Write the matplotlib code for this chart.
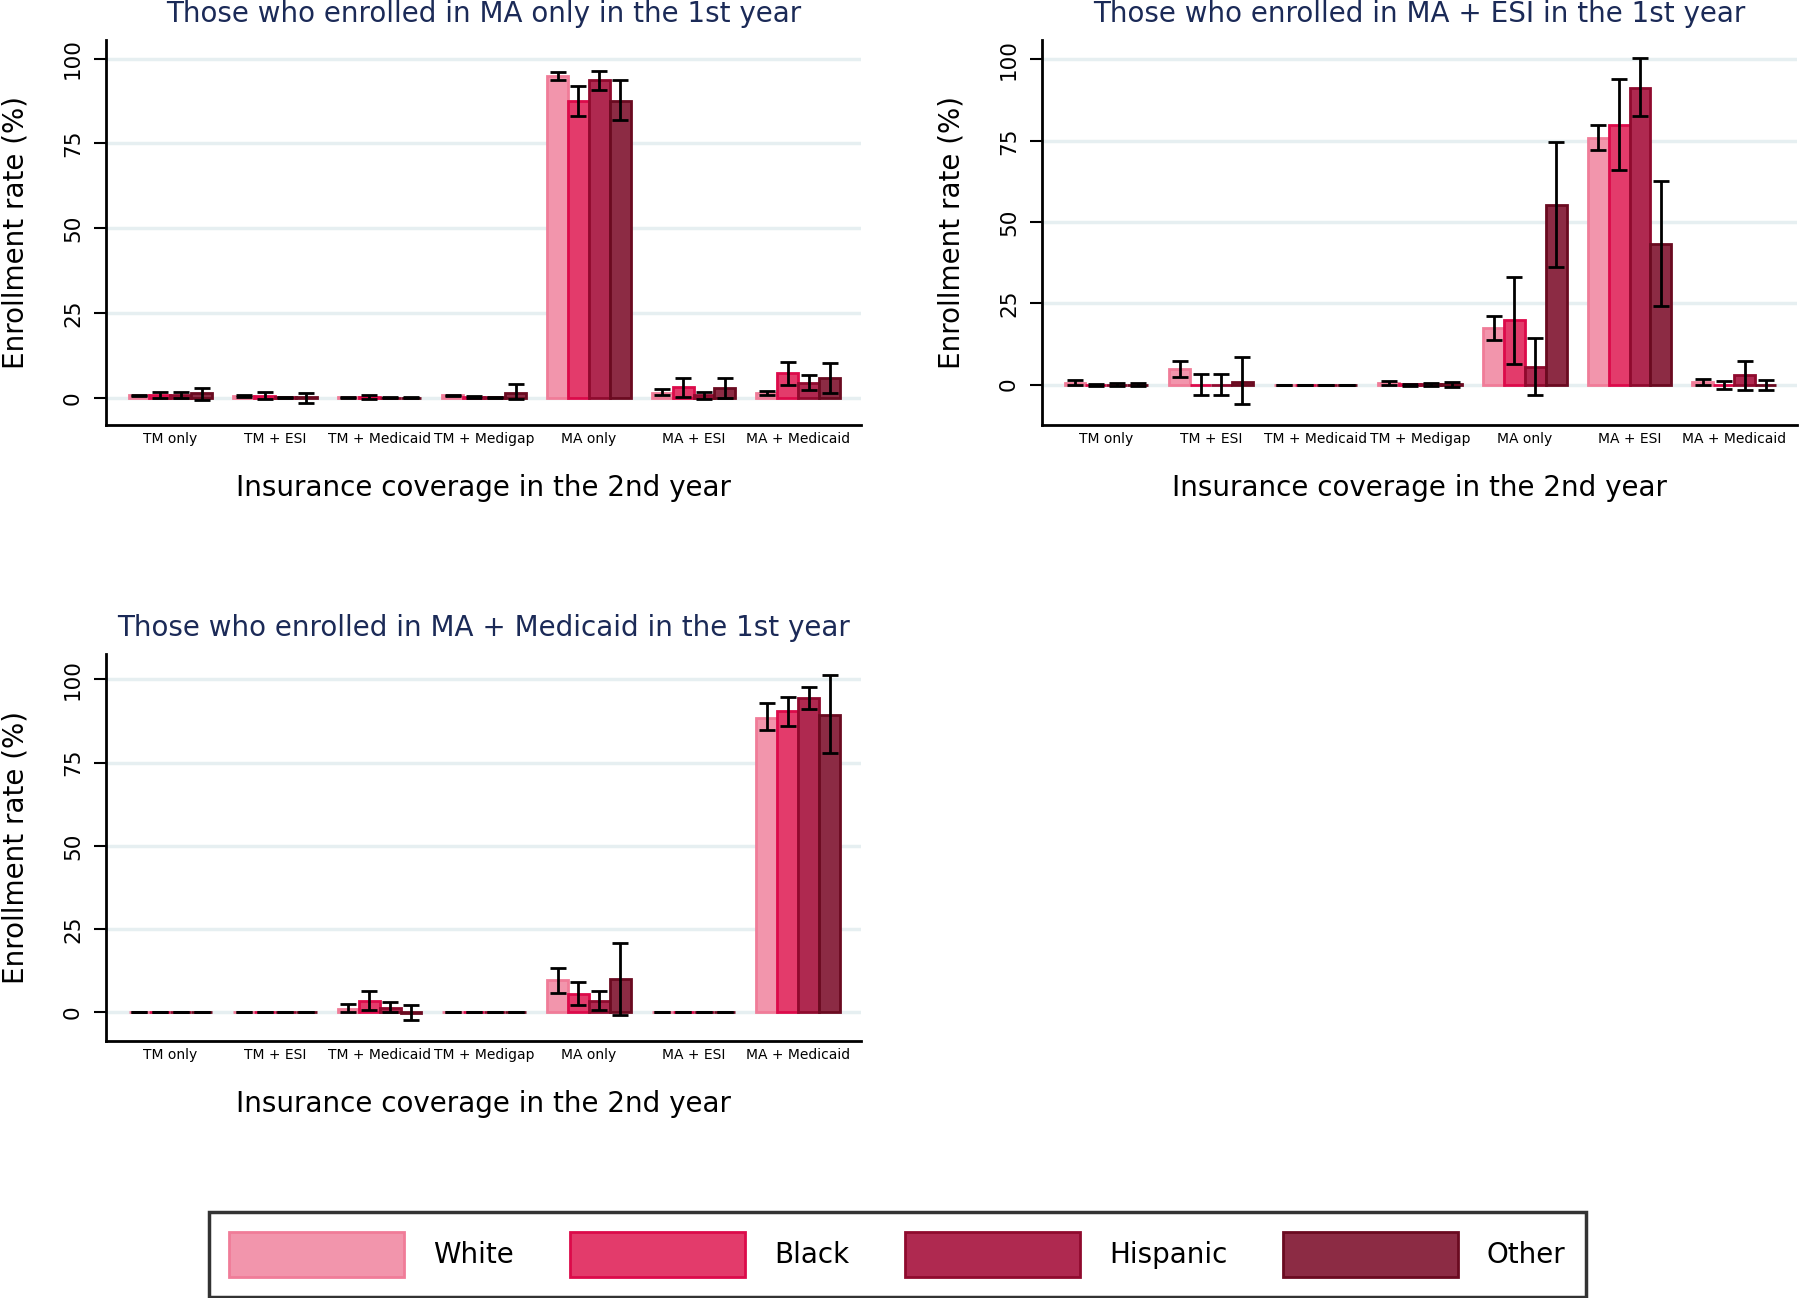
import numpy as np
import matplotlib.pyplot as plt
from matplotlib.patches import Patch

# categories and groups
coverage = ["TM only", "TM + ESI", "TM + Medicaid", "TM + Medigap", "MA only", "MA + ESI", "MA + Medicaid"]
races = ["White", "Black", "Hispanic", "Other"]

titles = [
    "Those who enrolled in MA only in the 1st year",
    "Those who enrolled in MA + ESI in the 1st year",
    "Those who enrolled in MA + Medicaid in the 1st year",
]

# panel 1: MA only in 1st year  (rows = race, cols = coverage)
p1_val = [
    [0.7, 0.5, 0.1, 0.7, 94.8, 1.5, 1.3],
    [0.8, 0.6, 0.2, 0.3, 87.4, 3.2, 7.2],
    [0.8, 0.1, 0.05, 0.1, 93.6, 0.8, 4.4],
    [1.3, 0.1, 0.05, 1.5, 87.6, 3.0, 5.9],
]
p1_lo = [
    [0.5, 0.3, 0.0, 0.5, 93.8, 0.8, 0.8],
    [-0.1, -0.3, -0.4, 0.0, 83.0, 0.3, 3.7],
    [-0.1, 0.0, 0.0, 0.0, 90.8, -0.2, 2.3],
    [-0.5, -1.5, 0.0, -0.2, 81.8, 0.0, 1.3],
]
p1_hi = [
    [0.9, 0.7, 0.2, 0.9, 96.0, 2.5, 2.0],
    [1.8, 1.6, 0.9, 0.6, 91.8, 5.7, 10.6],
    [1.8, 0.2, 0.1, 0.2, 96.3, 1.8, 6.7],
    [2.8, 1.5, 0.1, 4.0, 93.8, 5.7, 10.3],
]

# panel 2: MA + ESI in 1st year
p2_val = [
    [0.6, 4.7, 0.0, 0.5, 17.3, 75.9, 0.8],
    [0.0, 0.0, 0.0, 0.1, 19.9, 80.0, -0.1],
    [0.0, 0.0, 0.0, 0.1, 5.5, 91.3, 2.9],
    [0.0, 0.8, 0.0, 0.1, 55.3, 43.3, -0.1],
]
p2_lo = [
    [0.0, 2.4, 0.0, 0.0, 13.7, 72.2, 0.0],
    [-0.4, -3.3, 0.0, -0.3, 6.5, 66.0, -1.2],
    [-0.5, -3.3, 0.0, -0.4, -3.3, 82.5, -1.8],
    [-0.5, -5.9, 0.0, -0.8, 36.2, 24.2, -1.5],
]
p2_hi = [
    [1.3, 7.2, 0.0, 1.2, 21.1, 79.7, 1.8],
    [0.3, 3.2, 0.0, 0.3, 33.1, 94.1, 1.0],
    [0.5, 3.2, 0.0, 0.4, 14.2, 100.6, 7.3],
    [0.5, 8.4, 0.0, 0.8, 74.5, 62.7, 1.3],
]

# panel 3: MA + Medicaid in 1st year
p3_val = [
    [0.1, 0.0, 1.1, 0.0, 9.6, 0.0, 88.4],
    [0.1, 0.0, 3.4, 0.0, 5.6, 0.0, 90.5],
    [0.1, 0.0, 1.4, 0.0, 3.4, 0.0, 94.3],
    [0.1, 0.0, -0.3, 0.0, 9.9, 0.0, 89.3],
]
p3_lo = [
    [0.1, 0.0, 0.0, 0.0, 5.8, 0.0, 84.7],
    [0.1, 0.0, 0.8, 0.0, 2.2, 0.0, 86.0],
    [0.1, 0.0, 0.1, 0.0, 0.8, 0.0, 91.0],
    [0.1, 0.0, -2.3, 0.0, -0.7, 0.0, 78.0],
]
p3_hi = [
    [0.1, 0.0, 2.5, 0.0, 13.4, 0.0, 92.8],
    [0.1, 0.0, 6.3, 0.0, 9.1, 0.0, 94.6],
    [0.1, 0.0, 3.2, 0.0, 6.3, 0.0, 97.6],
    [0.1, 0.0, 2.1, 0.0, 20.8, 0.0, 101.2],
]

face_colors = ["#F295AC", "#E33B6B", "#AF2950", "#8C2B44"]
edge_colors = ["#F07C98", "#DC0A4A", "#8F0A2E", "#6A0A20"]
title_color = "#1B2A57"
grid_color = "#E6EFF1"

panels = [
    (p1_val, p1_lo, p1_hi, [0.0589, 0.6726, 0.4194, 0.2966], (-8.0, 105.5)),
    (p2_val, p2_lo, p2_hi, [0.5789, 0.6726, 0.4194, 0.2966], (-12.4, 106.0)),
    (p3_val, p3_lo, p3_hi, [0.0589, 0.1980, 0.4194, 0.2980], (-8.6, 107.6)),
]

fig = plt.figure(figsize=(18, 12.98), dpi=100)

x = np.arange(len(coverage))
width = 0.2

for i, (vals, lows, highs, pos, ylims) in enumerate(panels):
    ax = fig.add_axes(pos)
    for y in [0, 25, 50, 75, 100]:
        ax.axhline(y, color=grid_color, lw=2.5, zorder=0)
    for r in range(len(races)):
        xs = x + (r - 1.5) * width
        v = np.array(vals[r])
        lo = np.array(lows[r])
        hi = np.array(highs[r])
        ax.bar(xs, v, width, color=face_colors[r], edgecolor=edge_colors[r], linewidth=2, zorder=2)
        ax.errorbar(xs, (lo + hi) / 2, yerr=(hi - lo) / 2, fmt="none", ecolor="black",
                    elinewidth=2, capsize=6, capthick=2, zorder=3)
    ax.set_xlim(-0.615, 6.6)
    ax.set_ylim(*ylims)
    ax.set_yticks([0, 25, 50, 75, 100])
    ax.set_yticklabels(["0", "25", "50", "75", "100"], rotation=90, va="center")
    ax.tick_params(axis="y", labelsize=15.5, length=8.5, width=1.5, pad=8)
    ax.set_xticks(x)
    ax.set_xticklabels(coverage, fontsize=10)
    ax.tick_params(axis="x", length=0, pad=5)
    for s in ["top", "right"]:
        ax.spines[s].set_visible(False)
    for s in ["left", "bottom"]:
        ax.spines[s].set_linewidth(2)
    ax.set_title(titles[i], color=title_color, fontsize=20, pad=13)
    ax.set_ylabel("Enrollment rate (%)", fontsize=20)
    ax.yaxis.set_label_coords(-0.101, 0.5)
    ax.set_xlabel("Insurance coverage in the 2nd year", fontsize=20)
    ax.xaxis.set_label_coords(0.5, -0.127)

handles = [Patch(facecolor=face_colors[r], edgecolor=edge_colors[r], linewidth=2) for r in range(len(races))]
leg = fig.legend(handles, races, loc="lower center", bbox_to_anchor=(0.4986, 0.001), ncol=4,
                 fontsize=20, handlelength=6.3, handleheight=2.1, handletextpad=1.05,
                 columnspacing=2.0, borderpad=0.72, borderaxespad=0, fancybox=False, frameon=True)
leg.get_frame().set_edgecolor("black")
leg.get_frame().set_linewidth(2.5)

fig.savefig("out.png", dpi=100, facecolor="white")
